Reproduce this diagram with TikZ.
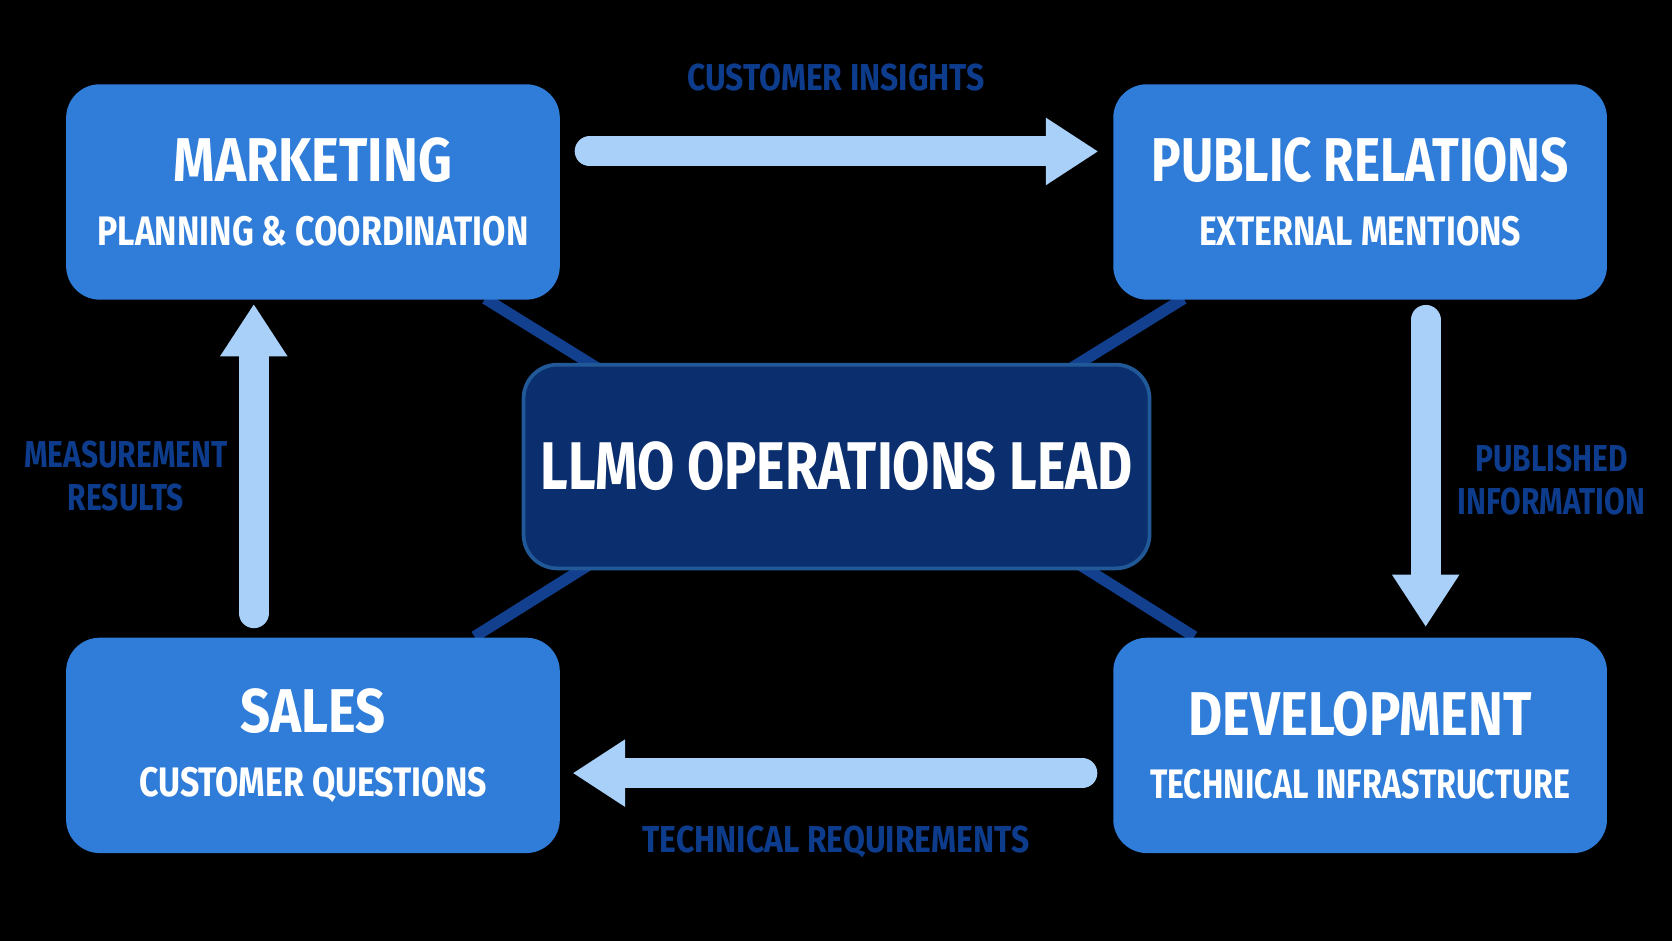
\documentclass[tikz,border=0pt]{standalone}
\usepackage{fontspec}
\setmainfont{Fira Sans}
\usetikzlibrary{arrows.meta}
\usetikzlibrary{positioning}
\definecolor{boxblue}{HTML}{2F7DD8}
\definecolor{leadblue}{HTML}{0B2F6E}
\definecolor{arrowblue}{HTML}{A8D0F8}
\definecolor{labelblue}{HTML}{0E3C8C}
\definecolor{linkblue}{HTML}{123F8E}

\begin{document}
\begin{tikzpicture}[x=1cm, y=-1cm,
	dept/.style={rectangle, rounded corners=9pt, fill=boxblue, draw=none,
				minimum width=4.63cm, minimum height=2.02cm, align=center,
				inner sep=2pt, text=white, font=\bfseries},
	lead/.style={rectangle, rounded corners=9pt, fill=leadblue, draw=boxblue!70!black,
				line width=1pt, minimum width=5.87cm, minimum height=1.91cm,
				inner sep=2pt, text=white, font=\bfseries},
	flow/.style={line width=8pt, arrowblue, line cap=round,
				-{Triangle[width=17pt, length=14pt]}},
	link/.style={line width=3pt, linkblue},
	lbl/.style={text=labelblue, font=\bfseries\fontsize{10}{11.5}\selectfont, align=center},
]
\fill[black] (0,0) rectangle (15.68,8.82);
\useasboundingbox (0,0) rectangle (15.68,8.82);
% links to the lead
\draw [link] (4.55,2.80) -- (5.60,3.45);
\draw [link] (11.10,2.80) -- (10.05,3.45);
\draw [link] (4.45,5.97) -- (5.55,5.28);
\draw [link] (11.20,5.97) -- (10.10,5.28);
% boxes
\node [lead] (L) at (7.845,4.375) {\scalebox{0.8}[1]{\fontsize{18}{21}\selectfont LLMO OPERATIONS LEAD}};
\node [dept] (M) at (2.935,1.80) {\scalebox{0.85}[1]{\fontsize{16.5}{19}\selectfont MARKETING}\\[5pt]
	\scalebox{0.82}[1]{\fontsize{11}{13}\selectfont PLANNING \& COORDINATION}};
\node [dept] (P) at (12.755,1.80) {\scalebox{0.8}[1]{\fontsize{16.5}{19}\selectfont PUBLIC RELATIONS}\\[5pt]
	\scalebox{0.82}[1]{\fontsize{11}{13}\selectfont EXTERNAL MENTIONS}};
\node [dept] (S) at (2.935,6.99) {\scalebox{0.85}[1]{\fontsize{16.5}{19}\selectfont SALES}\\[5pt]
	\scalebox{0.82}[1]{\fontsize{11}{13}\selectfont CUSTOMER QUESTIONS}};
\node [dept] (D) at (12.755,6.99) {\scalebox{0.85}[1]{\fontsize{16.5}{19}\selectfont DEVELOPMENT}\\[5pt]
	\scalebox{0.78}[1]{\fontsize{11}{13}\selectfont TECHNICAL INFRASTRUCTURE}};
% flow arrows
\coordinate (a1) at (5.53,1.42);  \coordinate (a2) at (10.30,1.42);
\coordinate (b1) at (13.37,3.00); \coordinate (b2) at (13.37,5.88);
\coordinate (c1) at (10.15,7.25); \coordinate (c2) at (5.37,7.25);
\coordinate (d1) at (2.38,5.75);  \coordinate (d2) at (2.38,2.85);
\draw [flow] (a1) -- (a2);
\draw [flow] (b1) -- (b2);
\draw [flow] (c1) -- (c2);
\draw [flow] (d1) -- (d2);
% labels
\node [lbl] (t1) at (7.84,0.73) {\scalebox{0.85}[1]{CUSTOMER INSIGHTS}};
\node [lbl] (t2) at (14.55,4.50) {\scalebox{0.8}[1]{PUBLISHED}\\\scalebox{0.8}[1]{INFORMATION}};
\node [lbl] (t3) at (7.84,7.90) {\scalebox{0.85}[1]{TECHNICAL REQUIREMENTS}};
\node [lbl] (t4) at (1.18,4.46) {\scalebox{0.8}[1]{MEASUREMENT}\\\scalebox{0.8}[1]{RESULTS}};
\end{tikzpicture}
\end{document}
